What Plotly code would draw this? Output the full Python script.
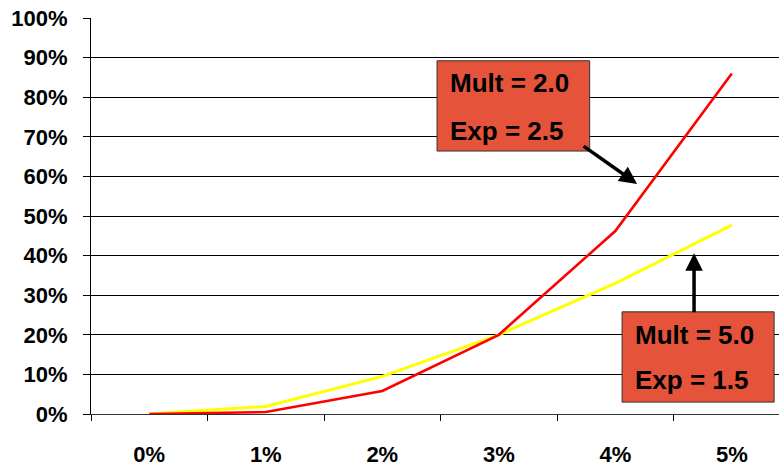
import plotly.graph_objects as go

# Categories and series values
categories = ["0%", "1%", "2%", "3%", "4%", "5%"]
mult2_exp25 = [0.0, 0.005, 0.058, 0.20, 0.462, 0.86]
mult5_exp15 = [0.0, 0.019, 0.095, 0.20, 0.33, 0.477]

FONT = "Liberation Sans"
BOX_FILL = "#E4533A"

fig = go.Figure()
fig.add_trace(go.Scatter(x=categories, y=mult5_exp15, mode="lines",
                         line=dict(color="#FFFF00", width=3), showlegend=False))
fig.add_trace(go.Scatter(x=categories, y=mult2_exp25, mode="lines",
                         line=dict(color="#FF0000", width=2.6), showlegend=False))

# Callout boxes
boxes = [
    dict(x0=2.47, x1=3.78, y0=0.664, y1=0.892, tx=2.564, lines=[("Mult = 2.0", 0.837), ("Exp = 2.5", 0.714)]),
    dict(x0=4.058, x1=5.363, y0=0.030, y1=0.258, tx=4.152, lines=[("Mult = 5.0", 0.2005), ("Exp = 1.5", 0.085)]),
]
for b in boxes:
    fig.add_shape(type="rect", xref="x", yref="y", x0=b["x0"], x1=b["x1"], y0=b["y0"], y1=b["y1"],
                  fillcolor=BOX_FILL, line=dict(color="#333333", width=1), layer="above")
    for txt, yy in b["lines"]:
        fig.add_annotation(x=b["tx"], y=yy, xref="x", yref="y", text=txt, showarrow=False,
                           xanchor="left", yanchor="middle",
                           font=dict(family=FONT, size=26, color="black", weight="bold"))

# Arrows pointing at the curves
arrows = [
    dict(x=4.187, y=0.581, ax=3.715, ay=0.679),
    dict(x=4.676, y=0.406, ax=4.676, ay=0.253),
]
for a in arrows:
    fig.add_annotation(x=a["x"], y=a["y"], ax=a["ax"], ay=a["ay"], xref="x", yref="y",
                       axref="x", ayref="y", text="", showarrow=True, arrowhead=2,
                       arrowsize=1, arrowwidth=3.5, arrowcolor="black")

fig.update_layout(
    width=779, height=467,
    margin=dict(l=91, r=0, t=18, b=50),
    paper_bgcolor="white", plot_bgcolor="white",
    font=dict(family=FONT, size=22, color="black", weight="bold"),
    showlegend=False,
)
fig.update_xaxes(
    type="category", range=[-0.5, 5.405],
    tickson="boundaries", ticks="outside", ticklen=6, tickcolor="black", tickwidth=1,
    showline=True, linecolor="#333333", linewidth=1,
    showgrid=False, zeroline=False,
    ticklabelstandoff=21,
    tickfont=dict(family=FONT, size=22, color="black", weight="bold"),
)
fig.update_yaxes(
    range=[0, 1], dtick=0.1, tickformat=".0%",
    ticks="outside", ticklen=7, tickcolor="black", tickwidth=1,
    showline=True, linecolor="black", linewidth=1,
    showgrid=True, gridcolor="black", gridwidth=1, zeroline=False,
    ticklabelstandoff=11,
    tickfont=dict(family=FONT, size=22, color="black", weight="bold"),
)

fig.write_html("out.html")
